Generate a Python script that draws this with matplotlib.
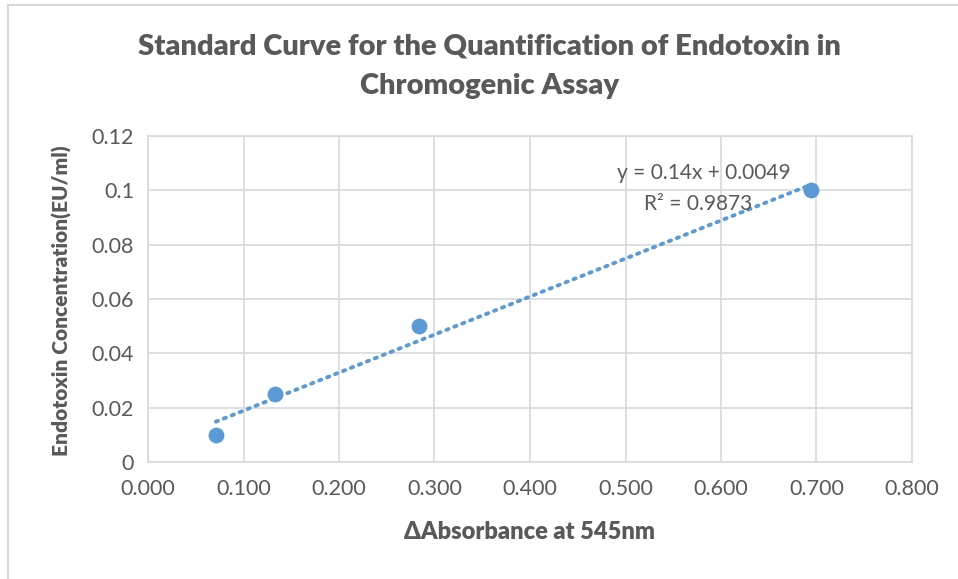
import matplotlib
import matplotlib.pyplot as plt
import numpy as np
from matplotlib.patches import Rectangle
from matplotlib.ticker import FixedLocator

matplotlib.use("Agg")

DPI = 100
WIDTH_PX, HEIGHT_PX = 958, 579

absorbance = [0.071, 0.133, 0.284, 0.694]
concentration = [0.010, 0.025, 0.050, 0.100]
slope, intercept = 0.14, 0.0049
eq_text = "y = 0.14x + 0.0049"
r2_text = "R² = 0.9873"

x_ticks = [0.0, 0.1, 0.2, 0.3, 0.4, 0.5, 0.6, 0.7, 0.8]
y_ticks = [0, 0.02, 0.04, 0.06, 0.08, 0.1, 0.12]
y_tick_labels = ["0", "0.02", "0.04", "0.06", "0.08", "0.1", "0.12"]

BLUE = "#5B9BD5"
TEXT = "#595959"
GRID = "#D9D9D9"

plt.rcParams["font.family"] = ["Lato", "DejaVu Sans"]

fig = plt.figure(figsize=(WIDTH_PX / DPI, HEIGHT_PX / DPI), dpi=DPI)
ax = fig.add_axes([148 / 958, 1 - 462 / 579, (912 - 148) / 958, (462 - 136) / 579])

# chart frame
fig.patches.append(Rectangle((8 / 958, -0.01), 1.0, 1 - 5 / 579 + 0.01, transform=fig.transFigure,
                             fill=False, edgecolor="#D9D9D9", linewidth=1.5))

ax.scatter(absorbance, concentration, s=130, color=BLUE, zorder=3, linewidths=0)

xs = np.array([min(absorbance), max(absorbance)])
ax.plot(xs, slope * xs + intercept, linestyle=(0, (0.6, 1.6)), color=BLUE, linewidth=2.8,
        dash_capstyle="round", zorder=2)

ax.set_xlim(0, 0.8)
ax.set_ylim(0, 0.12)
ax.xaxis.set_major_locator(FixedLocator(x_ticks))
ax.set_xticklabels([f"{v:.3f}" for v in x_ticks])
ax.set_yticks(y_ticks)
ax.set_yticklabels(y_tick_labels)
ax.tick_params(length=0, labelsize=15.5, labelcolor=TEXT)
ax.tick_params(axis="x", pad=12)
ax.tick_params(axis="y", pad=10)
ax.grid(True, color=GRID, linewidth=1.2)
ax.set_axisbelow(True)
for side in ["top", "right", "bottom", "left"]:
    ax.spines[side].set_color(GRID)
    ax.spines[side].set_linewidth(1.2)

ax.text(0.582, 0.1065, eq_text, ha="center", va="center", fontsize=15, color=TEXT)
ax.text(0.576, 0.0950, r2_text, ha="center", va="center", fontsize=15, color=TEXT)

fig.text(489 / 958, 1 - 47 / 579, "Standard Curve for the Quantification of Endotoxin in",
         ha="center", va="center", fontsize=21, fontweight="heavy", color=TEXT)
fig.text(489 / 958, 1 - 86 / 579, "Chromogenic Assay",
         ha="center", va="center", fontsize=21, fontweight="heavy", color=TEXT)
fig.text(530 / 958, 1 - 532 / 579, "ΔAbsorbance at 545nm",
         ha="center", va="center", fontsize=17, fontweight="heavy", color=TEXT)
fig.text(62 / 958, 1 - 301 / 579, "Endotoxin Concentration(EU/ml)", rotation=90,
         ha="center", va="center", fontsize=15, fontweight="heavy", color=TEXT)

fig.savefig("out.png", dpi=DPI)
plt.close(fig)
